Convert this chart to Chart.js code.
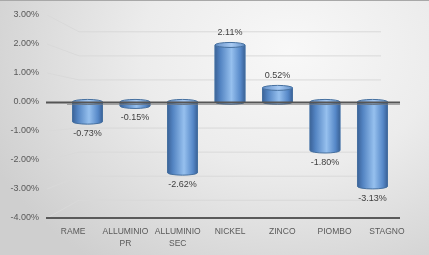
<!DOCTYPE html>
<html>
<head>
<meta charset="utf-8">
<script src="https://cdn.jsdelivr.net/npm/chart.js@4"></script>
<style>
  html, body { margin: 0; padding: 0; }
  #wrap {
    width: 429px; height: 255px; position: relative;
    background: radial-gradient(ellipse 330px 260px at 290px 50px, #f8f8f8 0%, #ececec 45%, #cfcfcf 100%);
    border-top: 1px solid #a8a8a8; box-sizing: border-box;
  }
</style>
</head>
<body>
<div id="wrap"><canvas id="metalli" width="429" height="254"></canvas></div>
<script>
// Variazione prezzi metalli
const categories = ['RAME', ['ALLUMINIO', 'PR'], ['ALLUMINIO', 'SEC'], 'NICKEL', 'ZINCO', 'PIOMBO', 'STAGNO'];
const values = [-0.73, -0.15, -2.62, 2.11, 0.52, -1.80, -3.13];
const yTicks = [3, 2, 1, 0, -1, -2, -3, -4];

const FONT = 'Liberation Sans';

// Helper: draw the 3D-ish gridlines (front label -> back wall)
const gridPlugin = {
  id: 'grid3d',
  beforeDatasetsDraw(chart) {
    const { ctx, chartArea } = chart;
    const y = chart.scales.y;
    const y0 = y.getPixelForValue(0);
    ctx.save();
    ctx.strokeStyle = '#d9d9d9';
    ctx.lineWidth = 1;
    yTicks.forEach(v => {
      if (v === 0) return;
      const fy = y.getPixelForValue(v);
      const by = y0 + 2 + (fy - y0) * 0.83;
      ctx.beginPath();
      ctx.moveTo(chartArea.left, fy);
      ctx.lineTo(chartArea.left + 32, by);
      ctx.lineTo(chartArea.right - 32, by);
      ctx.stroke();
    });
    // bottom axis line
    const yb = y.getPixelForValue(-4);
    ctx.strokeStyle = '#5a5a5a';
    ctx.lineWidth = 2;
    ctx.beginPath();
    ctx.moveTo(chartArea.left - 1, yb);
    ctx.lineTo(chartArea.right - 13, yb);
    ctx.stroke();
    ctx.restore();
  },
  afterDatasetsDraw(chart) {
    const { ctx, chartArea } = chart;
    const meta = chart.getDatasetMeta(0);

    meta.data.forEach((bar, i) => {
      const w = bar.width;
      const left = bar.x - w / 2;
      const right = bar.x + w / 2;
      const top = Math.min(bar.y, bar.base);
      const bottom = Math.max(bar.y, bar.base);
      const ry = 2.5;

      const body = ctx.createLinearGradient(left, 0, right, 0);
      body.addColorStop(0, '#3b6399');
      body.addColorStop(0.18, '#5384c2');
      body.addColorStop(0.55, '#96c0ee');
      body.addColorStop(0.85, '#5688c8');
      body.addColorStop(1, '#3a6298');

      ctx.save();
      ctx.fillStyle = body;
      ctx.strokeStyle = '#46709f';
      ctx.lineWidth = 1;

      // body with rounded bottom (lower half-ellipse)
      ctx.beginPath();
      ctx.moveTo(left, top);
      ctx.lineTo(left, bottom);
      ctx.ellipse(bar.x, bottom, w / 2, ry, 0, Math.PI, 0, true);
      ctx.lineTo(right, top);
      ctx.closePath();
      ctx.fill();
      ctx.stroke();

      // top cap
      const cap = ctx.createLinearGradient(left, 0, right, 0);
      cap.addColorStop(0, '#6590c8');
      cap.addColorStop(0.55, '#a8caf2');
      cap.addColorStop(1, '#6390c8');
      ctx.fillStyle = cap;
      ctx.beginPath();
      ctx.ellipse(bar.x, top, w / 2, ry, 0, 0, Math.PI * 2);
      ctx.fill();
      ctx.stroke();
      ctx.restore();

      // data label
      const v = values[i];
      ctx.save();
      ctx.font = '9px "' + FONT + '"';
      ctx.fillStyle = '#404040';
      ctx.textAlign = 'center';
      ctx.textBaseline = 'middle';
      const ly = v >= 0 ? bar.y - 12 : bar.y + 12;
      ctx.fillText(v.toFixed(2) + '%', bar.x, ly);
      ctx.restore();
    });

    // zero line
    const yz = chart.scales.y.getPixelForValue(0);
    ctx.save();
    ctx.strokeStyle = '#555555';
    ctx.lineWidth = 2;
    ctx.beginPath();
    ctx.moveTo(chartArea.left - 1, yz + 0.5);
    ctx.lineTo(chartArea.right - 13, yz + 0.5);
    ctx.stroke();
    ctx.strokeStyle = 'rgba(120,120,120,0.6)';
    ctx.lineWidth = 1;
    ctx.beginPath();
    ctx.moveTo(chartArea.left + 20, yz + 2.5);
    ctx.lineTo(chartArea.right - 13, yz + 2.5);
    ctx.stroke();
    ctx.restore();
  }
};

function initializeChart() {

  const ctx = document.getElementById('metalli').getContext('2d');

  new Chart(ctx, {
    type: 'bar',
    data: {
      labels: categories,
      datasets: [{
        data: values.map((v, i) => ({ x: i, y: v })),
        xAxisID: 'xb',
        yAxisID: 'yb',
        backgroundColor: '#5b8fd0',
        borderWidth: 0,
        barThickness: 30
      }]
    },
    options: {
      responsive: false,
      animation: false,
      layout: { padding: { top: 14, right: 16, bottom: 5, left: 0 } },
      plugins: { legend: { display: false }, tooltip: { enabled: false } },
      scales: {
        x: {
          type: 'category',
          offset: true,
          grid: { display: false, drawTicks: false },
          border: { display: false },
          afterFit: scale => { scale.height = 32; },
          ticks: {
            color: '#595959',
            padding: 8,
            maxRotation: 0,
            autoSkip: false,
            font: { family: FONT, size: 8.5, lineHeight: 1.4 }
          }
        },
        xb: {
          type: 'linear',
          display: false,
          min: -0.853,
          max: 6.853,
          offset: false
        },
        y: {
          min: -4,
          max: 3,
          grid: { display: false, drawTicks: false },
          border: { display: false },
          afterBuildTicks: scale => { scale.ticks = yTicks.map(v => ({ value: v })); },
          afterFit: scale => { scale.width = 47; },
          ticks: {
            color: '#595959',
            padding: 8,
            font: { family: FONT, size: 9 },
            callback: v => v.toFixed(2) + '%'
          }
        },
        yb: {
          type: 'linear',
          display: false,
          min: -4.3,
          max: 3.22
        }
      }
    },
    plugins: [gridPlugin]
  });
}

window.onload = function () {

  initializeChart();
};
</script>
</body>
</html>
